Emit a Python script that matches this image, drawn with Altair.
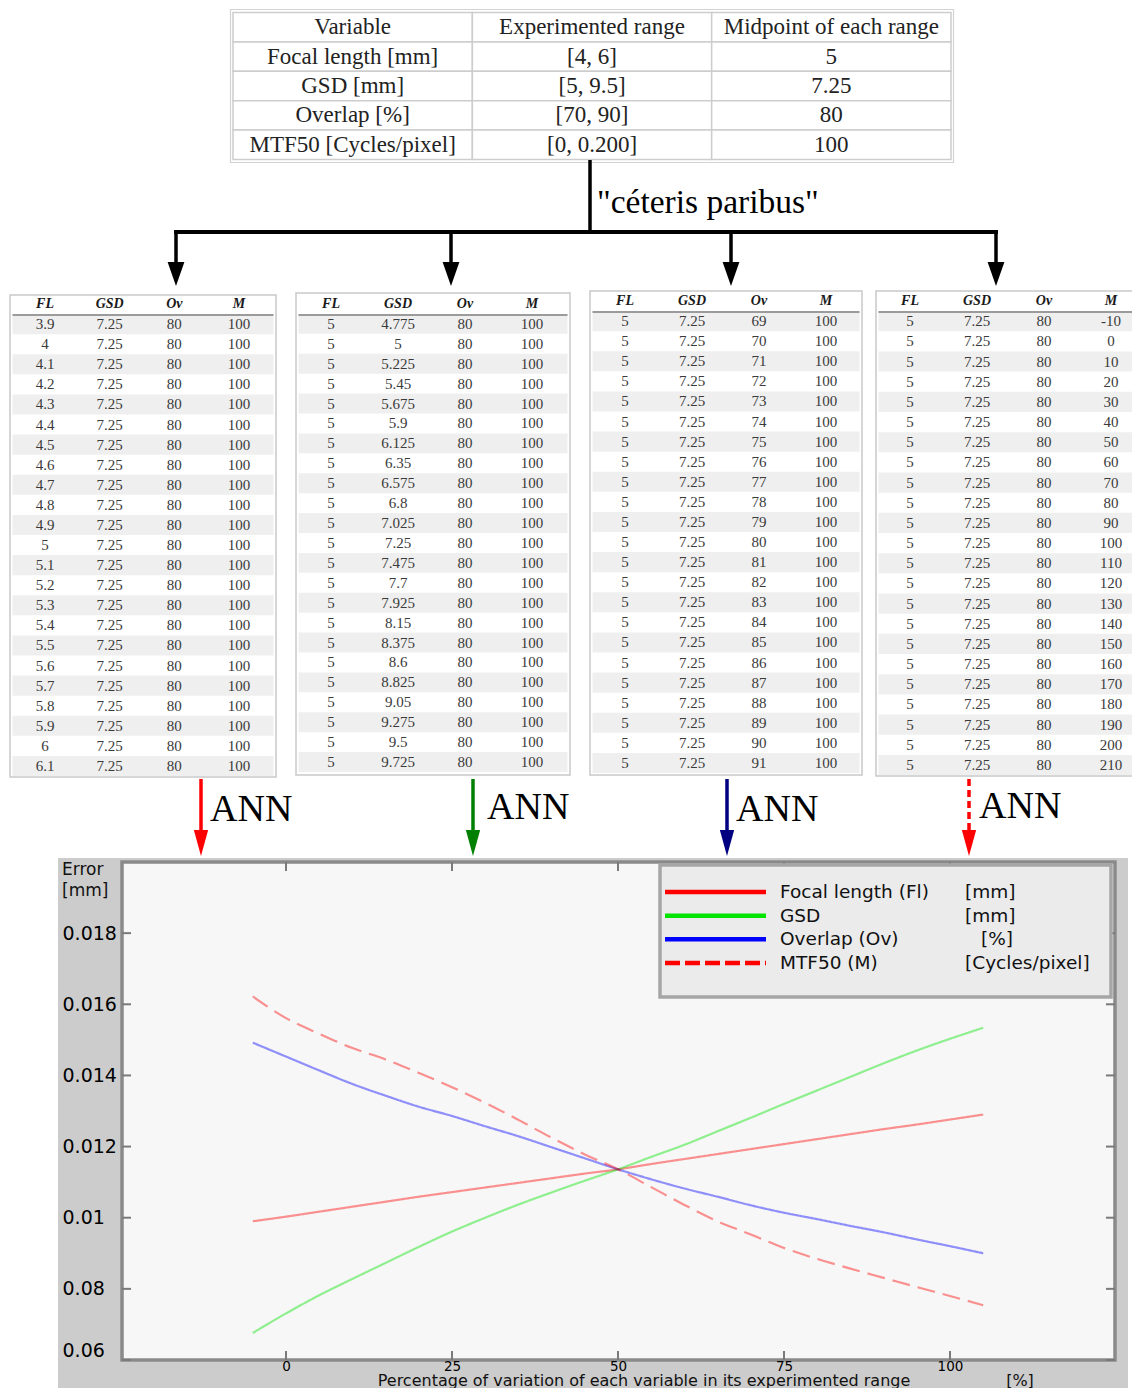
import altair as alt
import pandas as pd

# ------------------------------------------------------------------ data
TOP_HEADER = ["Variable", "Experimented range", "Midpoint of each range"]
TOP_VARIABLE = ["Focal length [mm]", "GSD [mm]", "Overlap [%]", "MTF50 [Cycles/pixel]"]
TOP_RANGE = ["[4, 6]", "[5, 9.5]", "[70, 90]", "[0, 0.200]"]
TOP_MIDPOINT = ["5", "7.25", "80", "100"]

CETERIS = "\"céteris paribus\""
ANN_LABEL = "ANN"

SMALL_HEADER = ["FL", "GSD", "Ov", "M"]
SMALL_MID = ["5", "7.25", "80", "100"]
FL_VALUES = ["3.9", "4", "4.1", "4.2", "4.3", "4.4", "4.5", "4.6", "4.7", "4.8", "4.9", "5",
             "5.1", "5.2", "5.3", "5.4", "5.5", "5.6", "5.7", "5.8", "5.9", "6", "6.1"]
GSD_VALUES = ["4.775", "5", "5.225", "5.45", "5.675", "5.9", "6.125", "6.35", "6.575", "6.8",
              "7.025", "7.25", "7.475", "7.7", "7.925", "8.15", "8.375", "8.6", "8.825", "9.05",
              "9.275", "9.5", "9.725"]
OV_VALUES = ["69", "70", "71", "72", "73", "74", "75", "76", "77", "78", "79", "80",
             "81", "82", "83", "84", "85", "86", "87", "88", "89", "90", "91"]
M_VALUES = ["-10", "0", "10", "20", "30", "40", "50", "60", "70", "80", "90", "100",
            "110", "120", "130", "140", "150", "160", "170", "180", "190", "200", "210"]

PCT = [-5, 0, 5, 10, 15, 20, 25, 30, 35, 40, 45, 50, 55, 60, 65, 70, 75, 80, 85, 90, 95, 100, 105]
ERR_FL = [0.00990, 0.01003, 0.01017, 0.01031, 0.01045, 0.01059, 0.01072, 0.01085, 0.01098,
          0.01111, 0.01124, 0.01136, 0.01151, 0.01165, 0.01179, 0.01193, 0.01207, 0.01221,
          0.01235, 0.01249, 0.01262, 0.01276, 0.01290]
ERR_GSD = [0.00676, 0.00731, 0.00782, 0.00828, 0.00873, 0.00918, 0.00961, 0.01000, 0.01037,
           0.01071, 0.01104, 0.01136, 0.01171, 0.01205, 0.01243, 0.01281, 0.01320, 0.01358,
           0.01396, 0.01434, 0.01470, 0.01503, 0.01534]
ERR_OV = [0.01492, 0.01453, 0.01414, 0.01376, 0.01343, 0.01312, 0.01286, 0.01257, 0.01229,
          0.01198, 0.01167, 0.01136, 0.01108, 0.01082, 0.01059, 0.01035, 0.01014, 0.00996,
          0.00977, 0.00959, 0.00939, 0.00920, 0.00900]
ERR_M = [0.01622, 0.01561, 0.01517, 0.01477, 0.01445, 0.01407, 0.01367, 0.01323, 0.01275,
         0.01225, 0.01178, 0.01136, 0.01086, 0.01036, 0.00990, 0.00953, 0.00915, 0.00884,
         0.00857, 0.00831, 0.00805, 0.00780, 0.00754]

SERIES = ["Focal length (Fl)", "GSD", "Overlap (Ov)", "MTF50 (M)"]
UNITS = ["[mm]", "[mm]", "[%]", "[Cycles/pixel]"]
XTICKS = [0, 25, 50, 75, 100]
YTICKS = [0.006, 0.008, 0.010, 0.012, 0.014, 0.016, 0.018]
YTICK_LABELS = ["0.06", "0.08", "0.01", "0.012", "0.014", "0.016", "0.018"]
Y_TITLE = "Error\n[mm]"
X_TITLE = "Percentage of variation of each variable in its experimented range"
X_UNIT = "[%]"

# ------------------------------------------------------------------ styles / layout
SERIF = "Liberation Serif"
SANS = "DejaVu Sans"
SERIES_COLORS = ["#ff0000", "#00e400", "#0000ff", "#ff0000"]
LINE_DASH = [[1, 0], [1, 0], [1, 0], [18, 8]]
LEGEND_DASH = [[1, 0], [1, 0], [1, 0], [15, 5]]
TICK_COLOR = "#7a7a7a"

OX, OY = 122, 862          # page position of the plot origin
PLOT_W, PLOT_H = 993, 498
SVG_W, SVG_H = 1124, 1380


def P(x):
    return x - OX


def Q(y):
    return y - OY


ONE = pd.DataFrame({"k": [0]})
HEAD_PATH = "M-0.7,-1L0.7,-1L0,1Z"
ANN_HEAD_PATH = "M-0.55,-1L0.55,-1L0,1Z"

ARROW_TOP_X = [176, 451, 731, 996]
ANN_X = [201, 473, 727, 969]
ANN_COLORS = ["#ff0000", "#008000", "#000080", "#ff0000"]
ANN_TEXT_X = [210, 487, 736, 979]
ANN_TEXT_Y = [810, 808, 810, 807]

TABLE_BOX = [(10, 276, 295, 777), (296, 570, 293, 775), (590, 862, 291, 775), (876, 1150, 291, 776)]
TABLE_INNER = [(12.7, 271.3), (297.5, 565.5), (591.5, 859.5), (876.5, 1144.5)]
TABLE_ROW_Y = [(304, 766), (304, 762), (301, 763), (301, 765)]

layers = []

# ------------------------------------------------------------------ top table
top_rows = [TOP_HEADER] + [[v, r, m] for v, r, m in zip(TOP_VARIABLE, TOP_RANGE, TOP_MIDPOINT)]
top_df = pd.DataFrame([
    {"row": i, "col": j, "text": top_rows[i][j],
     "x0": j - 0.5, "x1": j + 0.5, "y0": i - 0.5, "y1": i + 0.5}
    for i in range(5) for j in range(3)
])
xs_top = alt.Scale(domain=[-0.5, 2.5], range=[P(233), P(951)], nice=False, zero=False)
ys_top = alt.Scale(domain=[-0.5, 4.5], range=[Q(12.5), Q(159.5)], nice=False, zero=False)

layers.append(alt.Chart(ONE).mark_rect(fill="white", stroke="#d2d2d2", strokeWidth=1.2).encode(
    x=alt.value(P(230.5)), x2=alt.value(P(953.5)), y=alt.value(Q(9.5)), y2=alt.value(Q(162.5))))
layers.append(alt.Chart(top_df).mark_rect(fill="white", stroke="#cdcdcd", strokeWidth=1.5).encode(
    x=alt.X("x0:Q", scale=xs_top, axis=None), x2="x1:Q",
    y=alt.Y("y0:Q", scale=ys_top, axis=None), y2="y1:Q"))
layers.append(alt.Chart(top_df).mark_text(font=SERIF, fontSize=23, color="#222222").encode(
    x=alt.X("col:Q", scale=xs_top, axis=None),
    y=alt.Y("row:Q", scale=ys_top, axis=None),
    text="text:N"))

# ------------------------------------------------------------------ connectors
layers.append(alt.Chart(ONE).mark_rule(color="black", strokeWidth=3.5).encode(
    x=alt.value(P(590)), y=alt.value(Q(160)), y2=alt.value(Q(233))))
layers.append(alt.Chart(ONE).mark_rule(color="black", strokeWidth=4).encode(
    x=alt.value(P(174)), x2=alt.value(P(998)), y=alt.value(Q(232))))
arrow_df = pd.DataFrame({"px": [P(x) for x in ARROW_TOP_X]})
layers.append(alt.Chart(arrow_df).mark_rule(color="black", strokeWidth=3.5).encode(
    x=alt.X("px:Q", scale=None, axis=None), y=alt.value(Q(232)), y2=alt.value(Q(266))))
layers.append(alt.Chart(arrow_df).mark_point(shape=HEAD_PATH, size=576, filled=True,
                                             color="black", opacity=1).encode(
    x=alt.X("px:Q", scale=None, axis=None), y=alt.value(Q(274))))
layers.append(alt.Chart(pd.DataFrame({"t": [CETERIS]})).mark_text(
    font=SERIF, fontSize=33.5, align="left", color="black").encode(
    x=alt.value(P(597)), y=alt.value(Q(203)), text="t:N"))


# ------------------------------------------------------------------ small tables
def small_table(t, varied_values, varied_col):
    bl, br, bt, bb = TABLE_BOX[t]
    il, ir = TABLE_INNER[t]
    hy, ly = TABLE_ROW_Y[t]
    xs = alt.Scale(domain=[-0.5, 3.5], range=[P(il), P(ir)], nice=False, zero=False)
    ys = alt.Scale(domain=[0, 23], range=[Q(hy), Q(ly)], nice=False, zero=False)
    body = pd.DataFrame([
        {"row": r + 1, "col": c,
         "text": varied_values[r] if c == varied_col else SMALL_MID[c]}
        for r in range(23) for c in range(4)
    ])
    header = pd.DataFrame({"row": [0, 0, 0, 0], "col": [0, 1, 2, 3], "text": SMALL_HEADER})
    stripes = pd.DataFrame({"lo": [r - 0.5 for r in range(1, 24, 2)],
                            "hi": [r + 0.5 for r in range(1, 24, 2)]})
    rule = pd.DataFrame({"yy": [0.55]})
    out = []
    out.append(alt.Chart(ONE).mark_rect(fill="white", stroke="#c9c9c9", strokeWidth=1.5).encode(
        x=alt.value(P(bl)), x2=alt.value(P(br)), y=alt.value(Q(bt)), y2=alt.value(Q(bb))))
    out.append(alt.Chart(stripes).mark_rect(fill="#efefef").encode(
        x=alt.value(P(bl) + 2.5), x2=alt.value(P(br) - 2.5),
        y=alt.Y("lo:Q", scale=ys, axis=None), y2="hi:Q"))
    out.append(alt.Chart(rule).mark_rule(color="#9b9b9b", strokeWidth=2).encode(
        x=alt.value(P(bl) + 2.5), x2=alt.value(P(br) - 2.5),
        y=alt.Y("yy:Q", scale=ys, axis=None)))
    out.append(alt.Chart(header).mark_text(font=SERIF, fontSize=14, fontStyle="italic",
                                           fontWeight="bold", color="#1a1a1a").encode(
        x=alt.X("col:Q", scale=xs, axis=None), y=alt.Y("row:Q", scale=ys, axis=None),
        text="text:N"))
    out.append(alt.Chart(body).mark_text(font=SERIF, fontSize=15, color="#3a3a3a").encode(
        x=alt.X("col:Q", scale=xs, axis=None), y=alt.Y("row:Q", scale=ys, axis=None),
        text="text:N"))
    return out


layers += small_table(0, FL_VALUES, 0)
layers += small_table(1, GSD_VALUES, 1)
layers += small_table(2, OV_VALUES, 2)
layers += small_table(3, M_VALUES, 3)

# ------------------------------------------------------------------ line chart
xs_line = alt.Scale(domain=[-24.7, 124.85], nice=False, zero=False)
ys_line = alt.Scale(domain=[0.006, 0.020], nice=False, zero=False)

layers.append(alt.Chart(ONE).mark_rect(fill="#cccccc").encode(
    x=alt.value(P(58)), x2=alt.value(P(1128)), y=alt.value(Q(858)), y2=alt.value(Q(1410))))
layers.append(alt.Chart(ONE).mark_rect(fill="#f7f7f7", stroke="#8a8a8a", strokeWidth=3.5).encode(
    x=alt.value(0), x2=alt.value(PLOT_W), y=alt.value(0), y2=alt.value(PLOT_H)))

ytick_df = pd.DataFrame({"v": YTICKS})
xtick_df = pd.DataFrame({"v": XTICKS})
layers.append(alt.Chart(ytick_df).mark_rule(color=TICK_COLOR, strokeWidth=2).encode(
    y=alt.Y("v:Q", scale=ys_line, axis=None), x=alt.value(0), x2=alt.value(9)))
layers.append(alt.Chart(ytick_df).mark_rule(color=TICK_COLOR, strokeWidth=2).encode(
    y=alt.Y("v:Q", scale=ys_line, axis=None), x=alt.value(PLOT_W - 9), x2=alt.value(PLOT_W)))
layers.append(alt.Chart(xtick_df).mark_rule(color=TICK_COLOR, strokeWidth=2).encode(
    x=alt.X("v:Q", scale=xs_line, axis=None), y=alt.value(0), y2=alt.value(9)))
layers.append(alt.Chart(xtick_df).mark_rule(color=TICK_COLOR, strokeWidth=2).encode(
    x=alt.X("v:Q", scale=xs_line, axis=None), y=alt.value(PLOT_H - 9), y2=alt.value(PLOT_H)))

line_df = pd.concat([
    pd.DataFrame({"pct": PCT, "err": vals, "series": name})
    for name, vals in zip(SERIES, [ERR_FL, ERR_GSD, ERR_OV, ERR_M])
], ignore_index=True)

label_expr = " : ".join(
    f"abs(datum.value - {v}) < 0.000001 ? '{l}'" for v, l in zip(YTICKS, YTICK_LABELS)
) + " : ''"

layers.append(alt.Chart(line_df).mark_line(strokeWidth=2.2, opacity=0.42,
                                           interpolate="monotone").encode(
    x=alt.X("pct:Q", scale=xs_line,
            axis=alt.Axis(values=XTICKS, title=None, ticks=False, tickSize=0, domain=False,
                          grid=False, labelFont=SANS, labelFontSize=13.5, labelColor="#000000",
                          labelBaseline="middle", labelPadding=6, labelFlush=False, zindex=3)),
    y=alt.Y("err:Q", scale=ys_line,
            axis=alt.Axis(values=YTICKS, title=None, ticks=False, tickSize=0, domain=False,
                          grid=False, labelExpr=label_expr, labelFont=SANS, labelFontSize=19,
                          labelColor="#000000", labelAlign="left", labelPadding=60,
                          labelFlush=True, zindex=3)),
    color=alt.Color("series:N", scale=alt.Scale(domain=SERIES, range=SERIES_COLORS), legend=None),
    strokeDash=alt.StrokeDash("series:N", scale=alt.Scale(domain=SERIES, range=LINE_DASH),
                              legend=None),
))

# legend
legend_df = pd.DataFrame({"idx": [0, 1, 2, 3], "series": SERIES, "unit": UNITS,
                          "ux": [P(965), P(965), P(981), P(965)]})
ys_leg = alt.Scale(domain=[0, 3], range=[Q(892), Q(963)], nice=False, zero=False)
layers.append(alt.Chart(ONE).mark_rect(fill="#ebebeb", stroke="#a6a6a6", strokeWidth=3.5).encode(
    x=alt.value(P(660)), x2=alt.value(P(1111)), y=alt.value(Q(865)), y2=alt.value(Q(997))))
layers.append(alt.Chart(legend_df).mark_rule(strokeWidth=4.5).encode(
    x=alt.value(P(665)), x2=alt.value(P(766)),
    y=alt.Y("idx:Q", scale=ys_leg, axis=None),
    color=alt.Color("series:N", scale=alt.Scale(domain=SERIES, range=SERIES_COLORS), legend=None),
    strokeDash=alt.StrokeDash("series:N", scale=alt.Scale(domain=SERIES, range=LEGEND_DASH),
                              legend=None)))
layers.append(alt.Chart(legend_df).mark_text(font=SANS, fontSize=18.5, align="left",
                                             color="#111111").encode(
    x=alt.value(P(780)), y=alt.Y("idx:Q", scale=ys_leg, axis=None), text="series:N"))
layers.append(alt.Chart(legend_df).mark_text(font=SANS, fontSize=18.5, align="left",
                                             color="#111111").encode(
    x=alt.X("ux:Q", scale=None, axis=None), y=alt.Y("idx:Q", scale=ys_leg, axis=None),
    text="unit:N"))

# axis titles
layers.append(alt.Chart(pd.DataFrame({"t": [Y_TITLE]})).mark_text(
    font=SANS, fontSize=17, align="left", baseline="top", color="#111111",
    lineBreak="\n", lineHeight=21).encode(
    x=alt.value(P(62)), y=alt.value(Q(862)), text="t:N"))
layers.append(alt.Chart(pd.DataFrame({"t": [X_TITLE]})).mark_text(
    font=SANS, fontSize=16, baseline="alphabetic", color="#111111").encode(
    x=alt.value(P(644)), y=alt.value(Q(1385.5)), text="t:N"))
layers.append(alt.Chart(pd.DataFrame({"t": [X_UNIT]})).mark_text(
    font=SANS, fontSize=16, baseline="alphabetic", color="#111111").encode(
    x=alt.value(P(1020)), y=alt.value(Q(1385.5)), text="t:N"))

# ------------------------------------------------------------------ ANN arrows
ann_df = pd.DataFrame({"px": [P(x) for x in ANN_X], "color": ANN_COLORS,
                       "tx": [P(x) for x in ANN_TEXT_X], "ty": [Q(y) for y in ANN_TEXT_Y],
                       "label": [ANN_LABEL] * 4})
layers.append(alt.Chart(ann_df.iloc[:3]).mark_rule(strokeWidth=3.5).encode(
    x=alt.X("px:Q", scale=None, axis=None), y=alt.value(Q(779)), y2=alt.value(Q(836)),
    color=alt.Color("color:N", scale=None)))
layers.append(alt.Chart(ann_df.iloc[3:]).mark_rule(strokeWidth=3.5, strokeDash=[7, 4],
                                                   color="#ff0000").encode(
    x=alt.X("px:Q", scale=None, axis=None), y=alt.value(Q(779)), y2=alt.value(Q(834))))
layers.append(alt.Chart(ann_df).mark_point(shape=ANN_HEAD_PATH, size=676, filled=True,
                                           opacity=1).encode(
    x=alt.X("px:Q", scale=None, axis=None), y=alt.value(Q(843)),
    color=alt.Color("color:N", scale=None)))
layers.append(alt.Chart(ann_df).mark_text(font=SERIF, fontSize=38, align="left",
                                          color="black").encode(
    x=alt.X("tx:Q", scale=None, axis=None), y=alt.Y("ty:Q", scale=None, axis=None),
    text="label:N"))

chart = alt.layer(*layers).resolve_scale(
    x="independent", y="independent", color="independent", strokeDash="independent"
).properties(
    width=PLOT_W, height=PLOT_H,
    padding={"left": OX - 8, "top": OY - 8,
             "right": SVG_W - (OX - 8) - PLOT_W, "bottom": SVG_H - (OY - 8) - PLOT_H},
    autosize=alt.AutoSizeParams(type="none"),
    background="white",
).configure_view(strokeWidth=0)

chart.save("out.html", embed_options={"renderer": "svg", "actions": False})
